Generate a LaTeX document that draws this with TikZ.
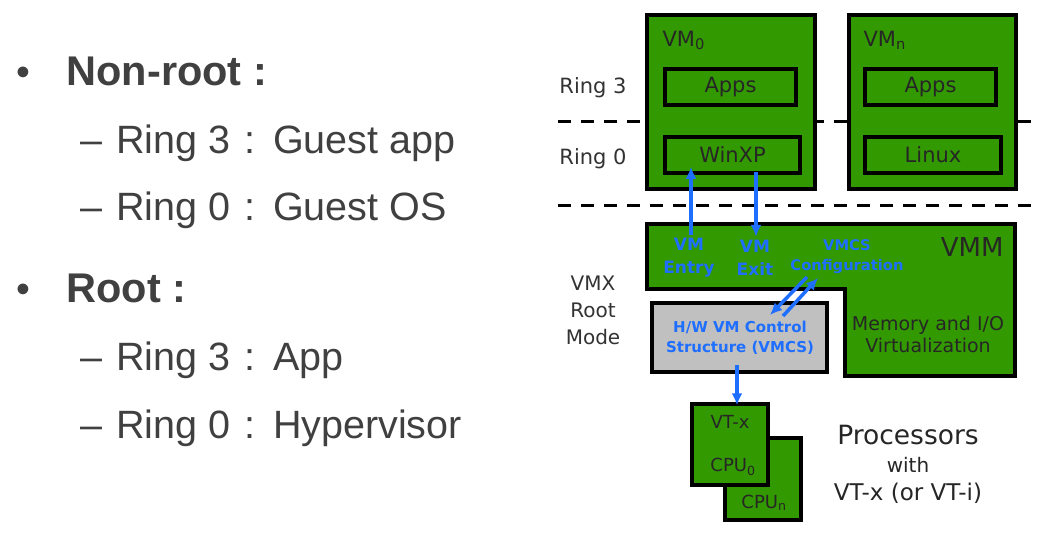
\documentclass[tikz,border=0pt]{standalone}
\usepackage{fontspec}
\setmainfont{DejaVu Sans}
\newfontfamily\slidefont{Liberation Sans}
\usetikzlibrary{arrows.meta}
\definecolor{vmgreen}{RGB}{51,153,0}
\definecolor{ctlblue}{RGB}{30,110,255}
\definecolor{vmcsgray}{RGB}{192,192,192}
\definecolor{slidetext}{RGB}{64,64,64}
\tikzset{
  vmbox/.style={draw=black, line width=3.5pt, fill=vmgreen, inner sep=0pt, text=black!85},
  ringline/.style={dashed, dash pattern=on 13pt off 10pt, line width=3pt},
  flow/.style={-{Latex[length=12pt,width=11pt,inset=1.5pt]}, ctlblue, line width=3.5pt},
  lbl/.style={font=\fontsize{21}{27}\selectfont, text=black!80, align=center},
  ctl/.style={text=ctlblue, align=center},
  item/.style={anchor=base west, text=slidetext, font=\slidefont\fontsize{39.5}{40}\selectfont},
  head/.style={item, font=\slidefont\bfseries\fontsize{41.5}{42}\selectfont},
}
\begin{document}
\begin{tikzpicture}[x=1pt,y=-1pt]
\useasboundingbox[fill=white] (0,0) rectangle (1053,541);
%% slide text
\node[item] (dot1) at (13,85) {•};
\node[head] (nonroot) at (63,85) {Non-root :};
\node[item] (guestapp) at (77,153) {–\hspace{0.35em}Ring 3\hspace{0.35em}:\hspace{0.45em}Guest app};
\node[item] (guestos) at (77,220) {–\hspace{0.35em}Ring 0\hspace{0.35em}:\hspace{0.45em}Guest OS};
\node[item] (dot2) at (13,302) {•};
\node[head] (root) at (63,302) {Root :};
\node[item] (hostapp) at (77,370) {–\hspace{0.35em}Ring 3\hspace{0.35em}:\hspace{0.45em}App};
\node[item] (hyper) at (77,438) {–\hspace{0.35em}Ring 0\hspace{0.35em}:\hspace{0.45em}Hypervisor};
%% ring borders
\draw[ringline] (558,121) -- (1035,121);
\draw[ringline] (558,205) -- (1035,205);
\node[lbl] (ring3) at (593,88) {Ring 3};
\node[lbl] (ring0) at (593,159) {Ring 0};
\node[lbl, font=\fontsize{20}{27}\selectfont] (vmx) at (593,310) {VMX\\Root\\Mode};
%% guests
\node[vmbox, minimum width=168pt, minimum height=174pt] (vm0) at (731,102) {};
\node[vmbox, minimum width=167pt, minimum height=174pt] (vmn) at (932.5,102) {};
\node[lbl, text=black!85, anchor=base west] (vm0name) at (659,46) {VM\textsubscript{0}};
\node[lbl, text=black!85, anchor=base west] (vmnname) at (860,46) {VM\textsubscript{n}};
\node[vmbox, minimum width=131pt, minimum height=36pt, font=\fontsize{21}{25}\selectfont] (apps0) at (730.5,87) {Apps};
\node[vmbox, minimum width=135pt, minimum height=36pt, font=\fontsize{21}{25}\selectfont] (winxp) at (732.5,155) {WinXP};
\node[vmbox, minimum width=131pt, minimum height=36pt, font=\fontsize{21}{25}\selectfont] (appsn) at (930.5,87) {Apps};
\node[vmbox, minimum width=136pt, minimum height=36pt, font=\fontsize{21}{25}\selectfont] (linux) at (933,155) {Linux};
%% monitor
\filldraw[vmbox] (647,224) -- (1015,224) -- (1015,376) -- (845,376) -- (845,289) -- (647,289) -- cycle;
\node[text=black!85, font=\fontsize{26}{30}\selectfont, anchor=east] (vmm) at (1007,247) {VMM};
\node[ctl, font=\bfseries\fontsize{17}{23}\selectfont] (entry) at (689,258) {VM\\Entry};
\node[ctl, font=\bfseries\fontsize{17}{23}\selectfont] (exit) at (755,258) {VM\\Exit};
\node[ctl, font=\bfseries\fontsize{14.7}{20}\selectfont] (config) at (847,257) {VMCS\\Configuration};
\node[text=black!85, align=center, font=\fontsize{19}{22}\selectfont] (memio) at (928,334) {Memory and I/O\\Virtualization};
\node[vmbox, fill=vmcsgray, minimum width=175pt, minimum height=69pt] (hwbox) at (739.5,337.5) {};
\node[ctl, font=\bfseries\fontsize{15}{20}\selectfont] (hwtext) at (740,338) {H/W VM Control\\Structure (VMCS)};
%% processors
\node[vmbox, minimum width=76pt, minimum height=82pt] (cpun) at (763,479) {};
\node[vmbox, minimum width=76pt, minimum height=81pt] (cpu0) at (730,444.5) {};
\node[text=black!85, font=\fontsize{18}{22}\selectfont] (vtx) at (730,422) {VT-x};
\node[text=black!85, font=\fontsize{18}{22}\selectfont] (cpu0name) at (733,467) {CPU\textsubscript{0}};
\node[text=black!85, font=\fontsize{18}{22}\selectfont] (cpunname) at (764,503) {CPU\textsubscript{n}};
\node[lbl, text=black!85, font=\fontsize{26.5}{30}\selectfont] (procs) at (908,435) {Processors};
\node[lbl, text=black!85, font=\fontsize{20}{24}\selectfont] (with) at (908,465) {with};
\node[lbl, text=black!85, font=\fontsize{23}{26}\selectfont] (vtxi) at (908,493) {VT-x (or VT-i)};
%% transitions
\coordinate (cfgout) at (807,277);
\coordinate (hwin) at (770,315);
\coordinate (hwout) at (783,316);
\coordinate (cfgin) at (818,278);
\draw[flow, shorten >=-8pt] ([xshift=2pt]entry.north) -- ([xshift=2pt]entry.north |- winxp.south);
\draw[flow, shorten <=-3pt] ([xshift=1pt]exit.north |- winxp.south) -- ([xshift=1pt]exit.north);
\draw[flow] (cfgout) -- (hwin);
\draw[flow] (hwout) -- (cfgin);
\draw[flow, shorten <=-9pt, shorten >=-3pt] ([xshift=-2.5pt]hwbox.south) -- ([xshift=-2.5pt]hwbox.south |- cpu0.north);
\end{tikzpicture}
\end{document}
